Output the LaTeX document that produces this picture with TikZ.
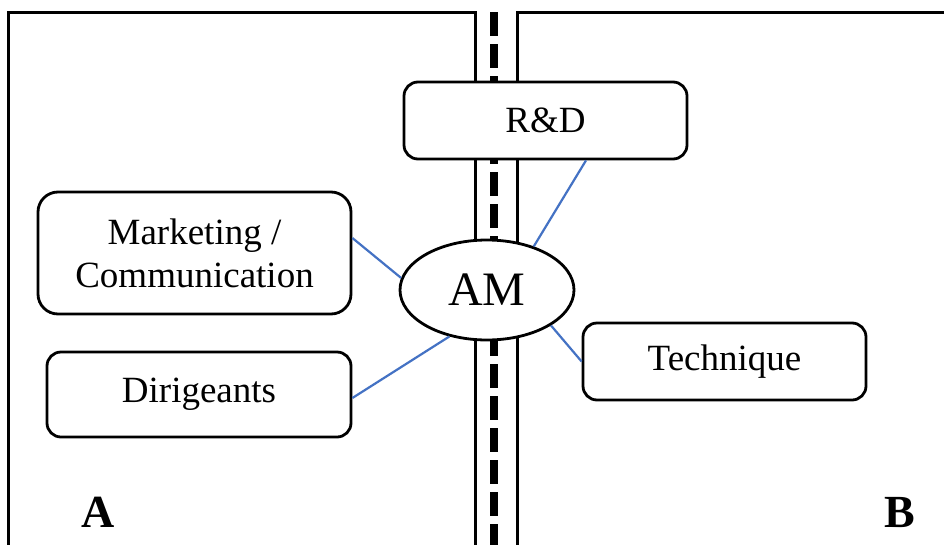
\documentclass[tikz,border=0pt]{standalone}
\usepackage{fontspec}
\setmainfont{Liberation Serif}
\usetikzlibrary{shapes.geometric}
\definecolor{lineblue}{HTML}{4472C4}
\begin{document}
\begin{tikzpicture}[x=1pt,y=-1pt,
  frame/.style={line width=3pt,black},
  sep/.style={line width=8pt,black,dash pattern=on 24pt off 8pt},
  link/.style={line width=2.2pt,lineblue},
  box/.style={draw,line width=2.8pt,fill=white,inner sep=0pt,
    font=\fontsize{37}{43}\selectfont,align=center},
  lbl/.style={font=\fontsize{46}{50}\selectfont\bfseries,inner sep=0pt}]
\clip (0,0) rectangle (944,544);
\fill[white] (0,0) rectangle (944,544);
% zones
\draw[frame] (8,600) -- (8,12) -- (475,12) -- (475,600);
\draw[frame] (517,600) -- (517,12) -- (980,12) -- (980,600);
\draw[sep] (494,12) -- (494,600);
% nodes
\node[box,minimum width=283,minimum height=77,rounded corners=14pt] (rd) at (545.5,120.5) {R\&D};
\node[box,minimum width=313,minimum height=122,rounded corners=20pt] (mk) at (194.5,253) {Marketing /\\Communication};
\node[box,minimum width=304,minimum height=85,rounded corners=14pt] (dg) at (199,394.5) {Dirigeants};
\node[box,minimum width=283,minimum height=77,rounded corners=14pt] (tq) at (724.5,361.5) {Technique};
\node[draw,ellipse,line width=2.8pt,fill=white,minimum width=174,minimum height=100,inner sep=0pt,
  font=\fontsize{48}{50}\selectfont] (am) at (487,290) {AM};
% links
\draw[link] ([xshift=40.5pt]rd.south) -- (am.43);
\draw[link] ([yshift=15pt]mk.east) -- (am.172);
\draw[link] ([yshift=-3.5pt]dg.east) -- (am.231);
\draw[link] (tq.west) -- (am.331);
% labels
\node[lbl] (a) at (98,512) {A};
\node[lbl] (b) at (900,512) {B};
\end{tikzpicture}
\end{document}
